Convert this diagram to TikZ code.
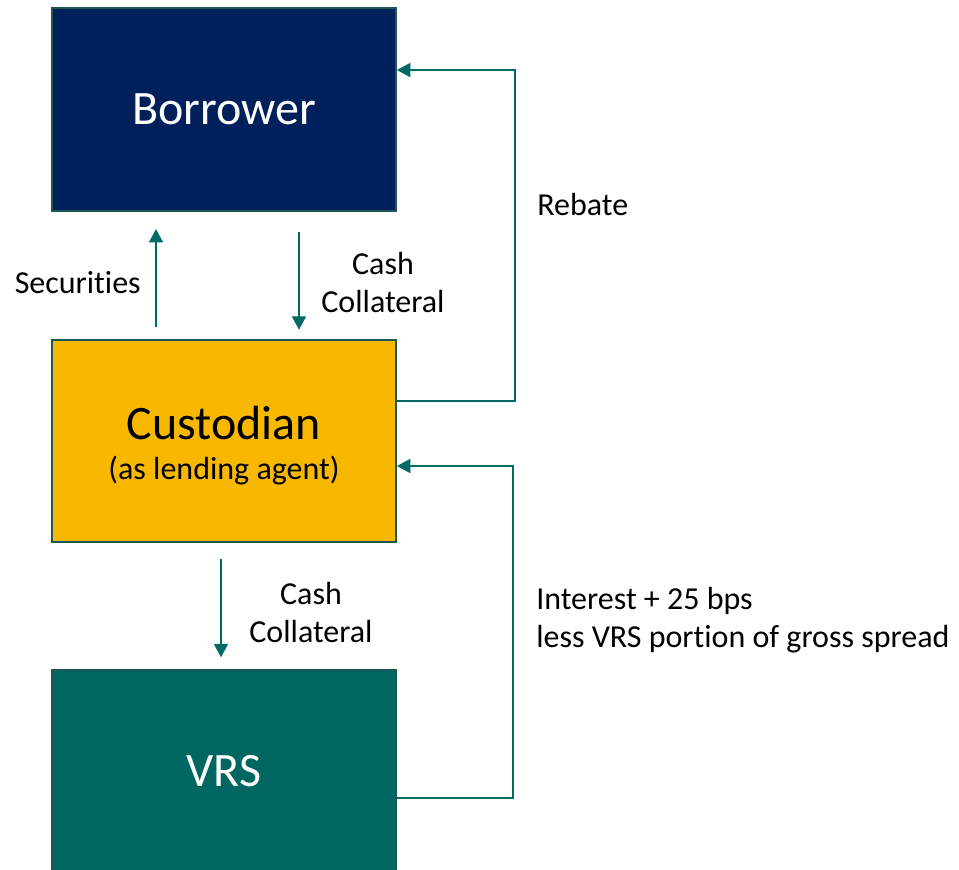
\documentclass[tikz,border=0pt]{standalone}
\usepackage{fontspec}
\setmainfont{Carlito}[Ligatures=CommonOff]
\usetikzlibrary{arrows.meta}

\definecolor{navyblue}{HTML}{00205B}
\definecolor{amber}{HTML}{F9B800}
\definecolor{deepteal}{HTML}{006661}
\definecolor{edgeteal}{HTML}{1E5654}
\definecolor{flowteal}{HTML}{006B66}

\tikzset{
  party/.style={draw=edgeteal, line width=1.4pt, minimum width=258pt, minimum height=152pt, inner sep=0pt, align=center},
  flow/.style={draw=flowteal, line width=1.1pt, -{Triangle[length=10pt,width=10.5pt]}},
  flowlabel/.style={inner sep=0pt, font=\fontsize{24}{28.5}\selectfont}
}

\begin{document}
\begin{tikzpicture}[x=0.75pt,y=0.75pt,yscale=-1,xscale=1]
\clip (0,0) rectangle (959,869);
\useasboundingbox (0,0) rectangle (959,869);

% parties
\node [party, fill=navyblue, text=white, font=\fontsize{36}{40}\selectfont] (borrower) at (224,109.5) {Borrower};
\node [party, fill=amber, text=black, font=\fontsize{24}{30}\selectfont] (cust) at (224,441) {\rule{0pt}{8pt}\\[-6pt]{\fontsize{36}{30}\selectfont Custodian}\\{\fontsize{24}{30}\selectfont (as lending agent)}};
\node [party, fill=deepteal, text=white, font=\fontsize{36}{40}\selectfont] (vrs) at (224,771.5) {VRS};

% flows between custodian and borrower
\draw [flow] ([xshift=-51pt,yshift=-9pt]cust.north) -- ([xshift=-51pt,yshift=13pt]borrower.south);
\draw [flow] ([xshift=56.25pt,yshift=15pt]borrower.south) -- ([xshift=56.25pt,yshift=-6.75pt]cust.north);
\draw [flow] ([yshift=-30pt]cust.east) -- ++(118,0) |- ([yshift=-29.6pt]borrower.east);

% flows between custodian and VRS
\draw [flow] ([xshift=-2.25pt,yshift=12pt]cust.south) -- ([xshift=-2.25pt,yshift=-9pt]vrs.north);
\draw [flow] ([yshift=19.9pt]vrs.east) -- ++(116,0) |- ([yshift=18.75pt]cust.east);

% labels
\node [flowlabel, anchor=east] (securities) at (141,283) {Securities};
\node [flowlabel, align=center] (cashtop) at (383,282) {Cash\\Collateral};
\node [flowlabel, anchor=west] (rebate) at (537,204) {Rebate};
\node [flowlabel, align=center] (cashlow) at (311,612) {Cash\\Collateral};
\node [flowlabel, anchor=west, align=left] (interest) at (536,620) {Interest + 25 bps\\less VRS portion of gross spread};

\end{tikzpicture}
\end{document}
